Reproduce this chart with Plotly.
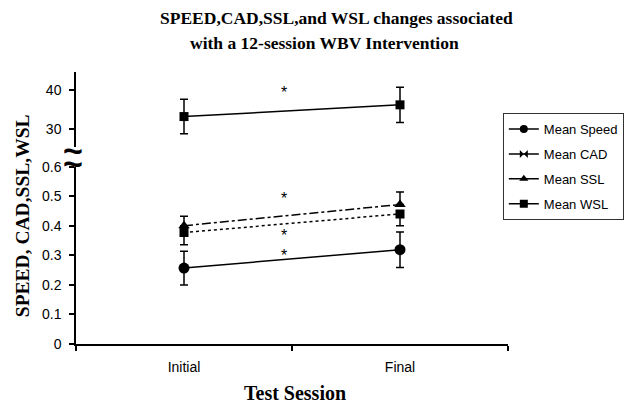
import plotly.graph_objects as go

sessions = ["Initial", "Final"]

speed = [0.257, 0.319]
speed_err = [0.057, 0.060]

cad = [33.2, 36.2]
cad_err = [4.4, 4.5]

ssl = [0.400, 0.472]
ssl_err_plus = [0.032, 0.042]

wsl = [0.377, 0.440]
wsl_err_minus = [0.041, 0.040]

# significance markers between sessions
star_upper = [40.3]
star_lower = [0.506, 0.382, 0.314]

lower_ticks = [0, 0.1, 0.2, 0.3, 0.4, 0.5, 0.6]
upper_ticks = [30, 40]

legend_names = ["Mean Speed", "Mean CAD", "Mean SSL", "Mean WSL"]
legend_symbols = ["circle", "bowtie", "triangle-up", "square"]

SANS = "Liberation Sans, Arial, sans-serif"
SERIF = "Liberation Serif, Times New Roman, serif"

fig = go.Figure()

err_style = dict(color="black", thickness=1.5, width=4)

fig.add_trace(go.Scatter(
    x=sessions, y=speed, mode="lines+markers", showlegend=False,
    line=dict(color="black", width=1.5),
    marker=dict(symbol="circle", size=11, color="black"),
    error_y=dict(type="data", array=speed_err, visible=True, **err_style),
))
fig.add_trace(go.Scatter(
    x=sessions, y=ssl, mode="lines+markers", showlegend=False,
    line=dict(color="black", width=1.5, dash="dashdot"),
    marker=dict(symbol="triangle-up", size=10, color="black"),
    error_y=dict(type="data", symmetric=False, array=ssl_err_plus,
                 arrayminus=[0, 0], visible=True, **err_style),
))
fig.add_trace(go.Scatter(
    x=sessions, y=wsl, mode="lines+markers", showlegend=False,
    line=dict(color="black", width=1.5, dash="dot"),
    marker=dict(symbol="square", size=9, color="black"),
    error_y=dict(type="data", symmetric=False, array=[0, 0],
                 arrayminus=wsl_err_minus, visible=True, **err_style),
))
fig.add_trace(go.Scatter(
    x=sessions, y=cad, mode="lines+markers", showlegend=False, yaxis="y2",
    line=dict(color="black", width=1.5),
    marker=dict(symbol="square", size=9, color="black"),
    error_y=dict(type="data", array=cad_err, visible=True, **err_style),
))

# legend entries (solid lines as in the reference legend)
for i, (nm, sym) in enumerate(zip(legend_names, legend_symbols)):
    fig.add_trace(go.Scatter(
        x=[None], y=[None], mode="lines+markers", name=nm,
        legendgroup=f"g{i}",
        line=dict(color="black", width=1.5),
        marker=dict(symbol=sym, size=8, color="black"),
    ))

annotations = []
for v in star_upper:
    annotations.append(dict(x=0.5, y=v, xref="x", yref="y2", text="*",
                            showarrow=False, yshift=-4, xshift=-8,
                            font=dict(family=SANS, size=16, color="black")))
for v in star_lower:
    annotations.append(dict(x=0.5, y=v, xref="x", yref="y", text="*",
                            showarrow=False, yshift=-4, xshift=-8,
                            font=dict(family=SANS, size=16, color="black")))

# titles
annotations += [
    dict(x=0.604, y=1.199, xref="paper", yref="paper", showarrow=False,
         text="<b>SPEED,CAD,SSL,and WSL changes associated</b>",
         font=dict(family=SERIF, size=17.5, color="black"), yanchor="middle"),
    dict(x=0.576, y=1.107, xref="paper", yref="paper", showarrow=False,
         text="<b>with a 12-session WBV Intervention</b>",
         font=dict(family=SERIF, size=17.5, color="black"), yanchor="middle"),
    dict(x=-0.125, y=0.47, xref="paper", yref="paper", showarrow=False,
         text="<b>SPEED, CAD,SSL,WSL</b>", textangle=-90,
         xanchor="center", yanchor="middle",
         font=dict(family=SERIF, size=19.5, color="black")),
    dict(x=0.508, y=-0.18, xref="paper", yref="paper", showarrow=False,
         text="<b>Test Session</b>", yanchor="middle",
         font=dict(family=SERIF, size=20, color="black")),
    # axis break marks
    dict(x=0, y=0.713, xref="paper", yref="paper", showarrow=False,
         text="<b>~</b>", xanchor="center", yanchor="middle", xshift=-3,
         font=dict(family=SANS, size=34, color="black")),
    dict(x=0, y=0.667, xref="paper", yref="paper", showarrow=False,
         text="<b>~</b>", xanchor="center", yanchor="middle", xshift=-3,
         font=dict(family=SANS, size=34, color="black")),
]

axis_common = dict(showline=True, linecolor="black", linewidth=1.5,
                   ticks="outside", ticklen=5, tickcolor="black", tickwidth=1.5,
                   showgrid=False, zeroline=False,
                   tickfont=dict(family=SANS, size=14, color="black"))

fig.update_layout(
    width=634, height=405,
    margin=dict(l=68, r=134, t=64, b=69),
    paper_bgcolor="white", plot_bgcolor="white",
    xaxis=dict(type="category", categoryarray=sessions, range=[-0.5, 1.5],
               tickson="boundaries", ticklabelstandoff=9, **axis_common),
    yaxis=dict(domain=[0, 0.652], range=[0, 0.6], tickvals=lower_ticks,
               anchor="x", ticklabelstandoff=5, **axis_common),
    yaxis2=dict(domain=[0.724, 1], range=[25.4, 44.6], tickvals=upper_ticks,
                anchor="x", ticklabelstandoff=5, **axis_common),
    legend=dict(x=0.988, y=0.849, xanchor="left", yanchor="top",
                bordercolor="#333", borderwidth=1, bgcolor="white",
                tracegroupgap=5,
                font=dict(family=SANS, size=13, color="black")),
    annotations=annotations,
    showlegend=True,
)

fig.write_html("out.html")
